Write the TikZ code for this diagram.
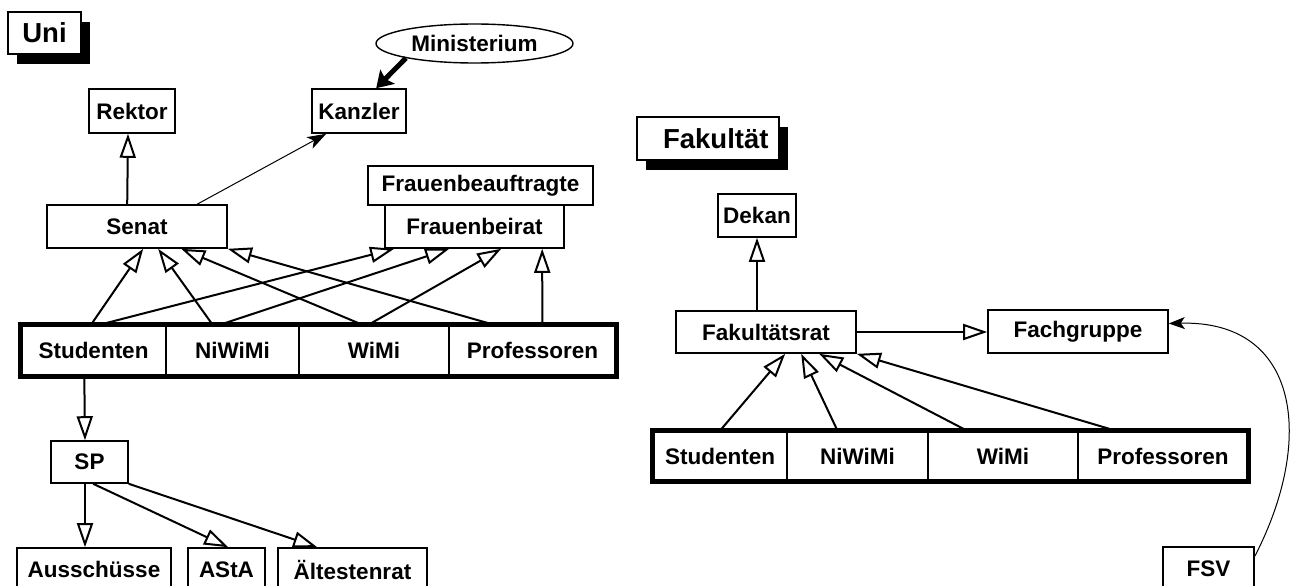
\documentclass[tikz,border=0pt]{standalone}
\usepackage{fontspec}
\setmainfont{Liberation Sans}
\usetikzlibrary{arrows.meta,shapes.geometric,shadows}
\begin{document}
\begin{tikzpicture}[x=1pt,y=-1pt,
  lbl/.style={font=\fontsize{22.5}{27}\selectfont\bfseries},
  box/.style={lbl, draw, line width=1.6pt, fill=white, inner sep=0pt},
  cell/.style={lbl, draw, line width=1.4pt, inner sep=0pt},
  title/.style={draw, line width=1.6pt, fill=white, inner sep=0pt,
    font=\fontsize{27.5}{33}\selectfont\bfseries,
    drop shadow={shadow xshift=9pt, shadow yshift=-10pt, fill=black, opacity=1}},
  gen/.style={line width=2pt, -{Triangle[length=24pt,width=16pt,fill=white]}},
  assoc/.style={line width=1pt, -{Stealth[length=19pt,width=13pt,inset=5pt]}},
  strong/.style={line width=5pt, -{Stealth[length=16pt,width=20pt,inset=3pt]}},
  group/.style={line width=4.5pt},
]
\clip (0,0) rectangle (1290,586);
\fill[white] (0,0) rectangle (1290,586);

% ---------- Uni ----------
\node[title, minimum width=73pt, minimum height=42pt] (uni) at (44.5,33) {Uni};
\node[box, ellipse, minimum width=197pt, minimum height=39pt, line width=1.4pt] (mini) at (474.5,43.5) {Ministerium};
\node[box, minimum width=86pt, minimum height=44pt] (rektor) at (132,111) {Rektor};
\node[box, minimum width=94pt, minimum height=44pt] (kanzler) at (359,111) {Kanzler};
\node[box, minimum width=180pt, minimum height=43pt] (senat) at (137,226.5) {Senat};
\node[box, minimum width=225pt, minimum height=39pt] (fbeauf) at (480.5,185.5) {Frauenbeauftragte};
\node[box, minimum width=179pt, minimum height=43pt] (fbeirat) at (474.5,226.5) {Frauenbeirat};

\node[cell, minimum width=145pt, minimum height=51pt] (us1) at (93.5,350.5) {Studenten};
\node[cell, minimum width=133pt, minimum height=51pt] (us2) at (232.5,350.5) {NiWiMi};
\node[cell, minimum width=150pt, minimum height=51pt] (us3) at (374,350.5) {WiMi};
\node[cell, minimum width=167pt, minimum height=51pt] (us4) at (532.5,350.5) {Professoren};
\draw[group] (us1.north west) rectangle (us4.south east);

\node[box, minimum width=77pt, minimum height=42pt] (sp) at (89.5,462) {SP};
\node[box, minimum width=154pt, minimum height=43pt] (aus) at (94,569.5) {Ausschüsse};
\node[box, minimum width=77pt, minimum height=43pt] (asta) at (226.5,569.5) {AStA};
\node[box, minimum width=149pt, minimum height=43pt] (aelt) at (352.5,569.5) {Ältestenrat};

\draw[gen] ([xshift=81pt]senat.north west) -- ([xshift=-4pt]rektor.south);
\draw[assoc] ([xshift=151pt]senat.north west) -- ([xshift=15pt]kanzler.south west);
\draw[strong] (mini.-168) -- ([xshift=65pt]kanzler.north west);

\draw[gen] ([xshift=71pt]us1.north west) -- ([xshift=97pt]senat.south west);
\draw[gen] ([xshift=47pt]us2.north west) -- ([xshift=112pt]senat.south west);
\draw[gen] ([xshift=63pt]us3.north west) -- ([xshift=135pt]senat.south west);
\draw[gen] ([xshift=44pt]us4.north west) -- (senat.south east);
\draw[gen] ([xshift=81pt]us1.north west) -- ([xshift=10pt]fbeirat.south west);
\draw[gen] ([xshift=56pt]us2.north west) -- ([xshift=65pt]fbeirat.south west);
\draw[gen] ([xshift=71pt]us3.north west) -- ([xshift=117pt]fbeirat.south west);
\draw[gen] ([xshift=94pt]us4.north west) -- ([xshift=158pt]fbeirat.south west);

\draw[gen] ([xshift=64pt]us1.south west) -- ([xshift=-4.5pt]sp.north);
\draw[gen] ([xshift=-4.5pt]sp.south) -- ([xshift=-9pt]aus.north);
\draw[gen] ([xshift=43pt]sp.south west) -- ([xshift=41pt]asta.north west);
\draw[gen] (sp.south east) -- ([xshift=40pt]aelt.north west);

% ---------- Fakultaet ----------
\node[title, minimum width=142pt, minimum height=43pt, text width=121pt, align=right] (fak) at (708,138.5) {Fakultät};
\node[box, minimum width=78pt, minimum height=43pt] (dekan) at (757,215.5) {Dekan};
\node[box, minimum width=180pt, minimum height=42pt] (frat) at (766,332) {Fakultätsrat};
\node[box, minimum width=180pt, minimum height=43pt] (fach) at (1078,331.5) {Fachgruppe};

\node[cell, minimum width=134pt, minimum height=50pt] (fs1) at (720,456) {Studenten};
\node[cell, minimum width=141pt, minimum height=50pt] (fs2) at (857.5,456) {NiWiMi};
\node[cell, minimum width=150pt, minimum height=50pt] (fs3) at (1003,456) {WiMi};
\node[cell, minimum width=170pt, minimum height=50pt] (fs4) at (1163,456) {Professoren};
\draw[group] (fs1.north west) rectangle (fs4.south east);

\node[box, minimum width=91pt, minimum height=43pt] (fsv) at (1208.5,568.5) {FSV};

\draw[gen] ([xshift=-9pt]frat.north) -- (dekan.south);
\draw[gen] (frat.east) -- (fach.west |- frat.east);
\draw[gen] ([xshift=68pt]fs1.north west) -- ([xshift=110pt]frat.south west);
\draw[gen] ([xshift=51pt]fs2.north west) -- ([xshift=126pt]frat.south west);
\draw[gen] ([xshift=39pt]fs3.north west) -- ([xshift=144pt]frat.south west);
\draw[gen] ([xshift=37pt]fs4.north west) -- (frat.south east);

\draw[line width=1pt, -{Stealth[length=16pt,width=12pt,inset=4pt]}]
  ([yshift=-10pt]fsv.north east) .. controls (1315,440) and (1300,320) .. ([yshift=8pt]fach.east);
\end{tikzpicture}
\end{document}
